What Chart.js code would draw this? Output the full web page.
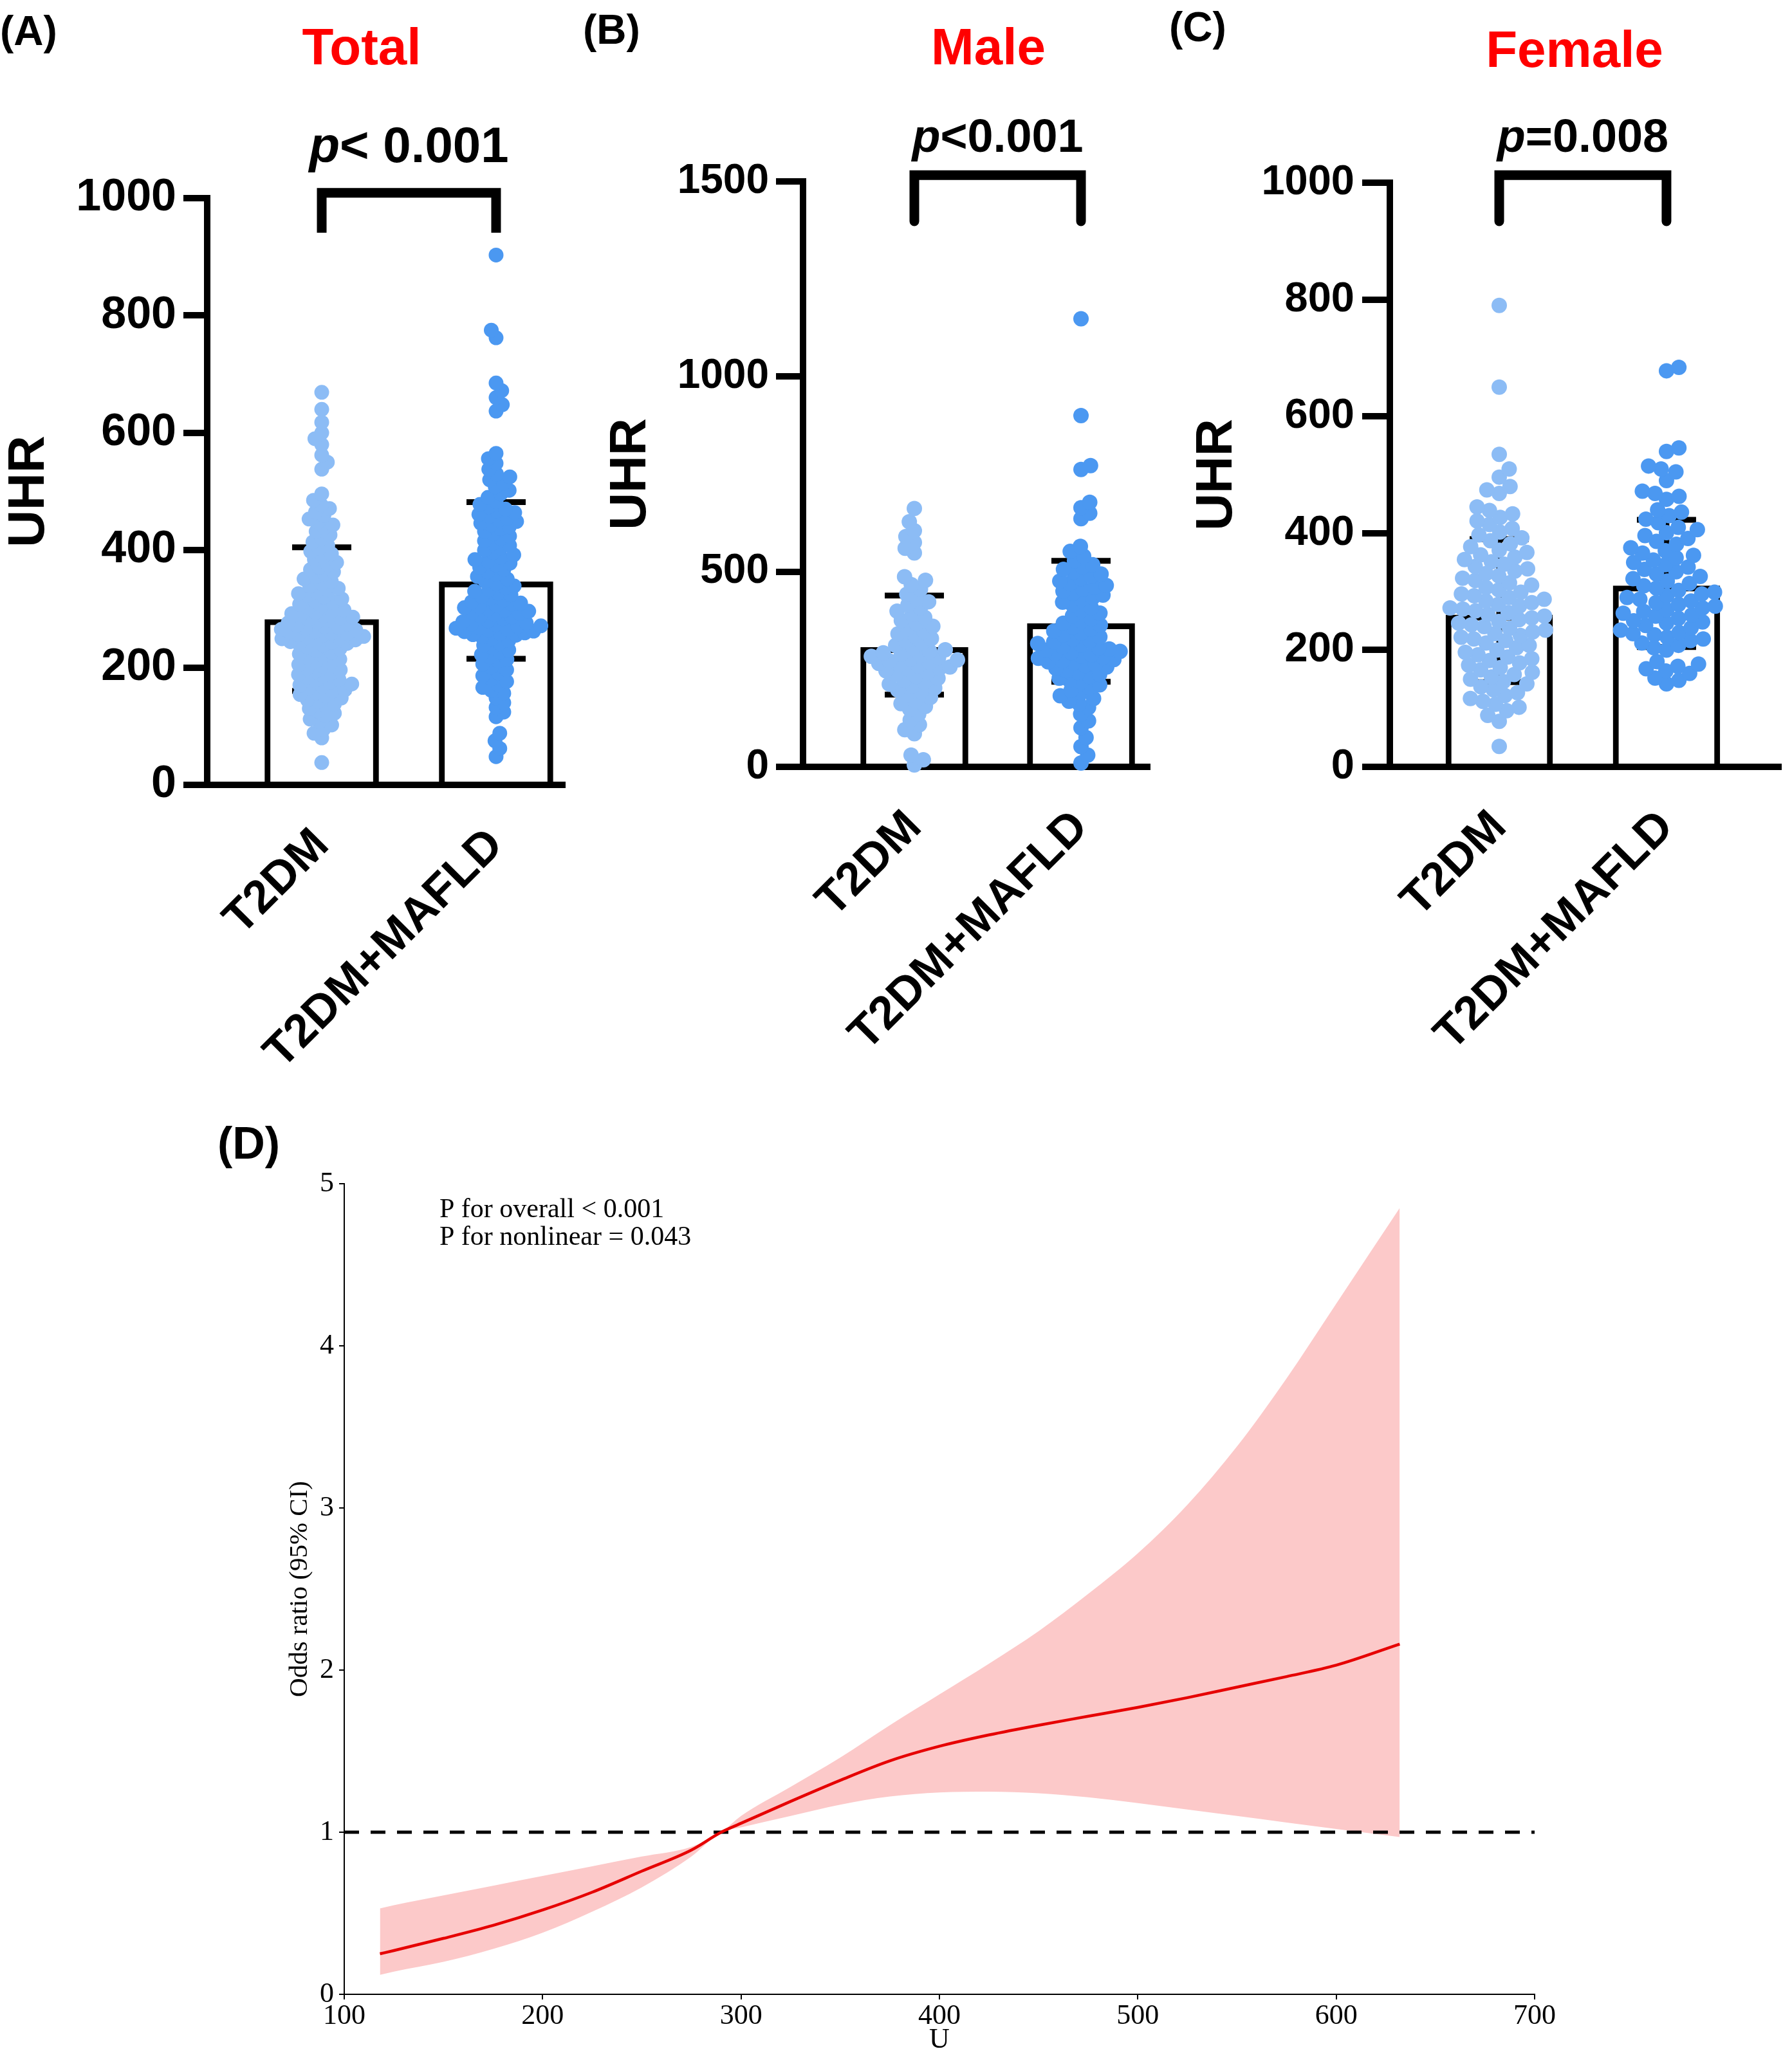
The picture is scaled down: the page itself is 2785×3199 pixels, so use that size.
<!DOCTYPE html>
<html>
<head>
<meta charset="utf-8">
<script src="https://cdn.jsdelivr.net/npm/chart.js@4.4.1/dist/chart.umd.min.js"></script>
<style>
  body { margin: 0; background: #fff; width: 2785px; height: 3199px; position: relative; overflow: hidden; }
  .pane { position: absolute; }
</style>
</head>
<body>
<div class="pane" style="left:0;top:0;width:900px;height:1700px"><canvas id="cA"></canvas></div>
<div class="pane" style="left:900px;top:0;width:910px;height:1700px"><canvas id="cB"></canvas></div>
<div class="pane" style="left:1810px;top:0;width:975px;height:1700px"><canvas id="cC"></canvas></div>
<div class="pane" style="left:300px;top:1700px;width:2200px;height:1499px"><canvas id="cD"></canvas></div>
<script>
const SANS = "'Liberation Sans', Arial, sans-serif";
const SERIF = "'Liberation Serif', 'Times New Roman', serif";

// ---- data ----
const groups = ['T2DM', 'T2DM+MAFLD'];

const totalT2dm = [38, 80, 88, 95, 102, 108, 112, 118, 122, 126, 130, 134, 138, 142, 145, 148,
  152, 154, 157, 160, 162, 165, 168, 170, 172, 175, 178, 180, 183, 186, 188, 191, 194, 196, 199,
  202, 205, 208, 211, 214, 217, 220, 223, 226, 229, 232, 235, 238,
  240, 241, 243, 244, 246, 247, 249, 250, 252, 253, 255, 256, 258, 259, 261, 262, 264, 265, 267, 268,
  270, 272, 274, 276, 278, 280, 282, 284, 286, 288, 290, 292, 294, 296, 298,
  302, 305, 308, 311, 314, 317, 320, 323, 326, 329, 332, 335, 339, 343, 347,
  351, 355, 359, 363, 367, 371, 375, 379, 384, 389, 394, 398,
  403, 408, 414, 420, 426, 432, 438, 443, 448, 453, 459, 465, 471, 477, 485, 496,
  538, 550, 562, 580, 590, 600, 618, 640, 669];
const totalMafld = [48, 62, 75, 88, 116, 124, 132, 140, 148, 156,
  161, 166, 171, 176, 181, 186, 191, 196, 201, 206,
  211, 214, 218, 222, 226, 230, 234, 238, 242, 246, 250, 253,
  255, 256, 258, 259, 261, 262, 264, 265, 267, 268, 270, 271, 273, 274, 276, 278, 280, 283,
  286, 288, 290, 292, 294, 296, 298, 300, 302, 304, 306, 308, 310, 312, 315, 318, 321, 324, 327, 330, 333, 336,
  339, 343, 347, 351, 355, 359, 363, 367, 371, 375, 378, 381, 384,
  388, 392, 396, 400, 404, 408, 412, 416, 420, 424, 428, 432,
  437, 440, 443, 446, 449, 452, 455, 458, 461, 464, 467, 470, 474, 478, 483,
  490, 496, 502, 508, 514, 520, 525, 530, 538, 548, 556, 565,
  637, 648, 660, 672, 685, 762, 775, 903];

const maleT2dm = [5, 18, 30, 85, 95, 108, 120, 135,
  148, 155, 162, 170, 178, 185, 192, 197,
  202, 207, 212, 217, 222, 227, 232, 237, 242, 246, 250,
  253, 256, 259, 262, 265, 268, 271, 274, 277, 280, 283, 286, 289, 292, 296, 300,
  305, 311, 317, 323, 329, 335, 341, 347, 354, 360,
  367, 375, 383, 391, 399, 407, 415, 423, 431,
  442, 455, 467, 478, 487, 548, 560, 575, 590, 605, 628, 662];
const maleMafld = [10, 30, 52, 75, 100, 118, 135, 152,
  162, 168, 175, 182, 189, 196, 203, 210, 217, 222,
  227, 232, 237, 242, 247, 252, 256, 260, 263,
  266, 269, 272, 275, 278, 281, 284, 287, 290, 293, 296, 299, 302, 305, 308, 312, 316, 320, 324, 328,
  333, 338, 343, 348, 353, 358, 363, 368,
  373, 380, 387, 394, 401, 408, 415, 422, 429, 434,
  440, 445, 450, 455, 460, 465, 470, 476, 482, 488, 494, 500, 506, 512,
  518, 528, 540, 552, 565, 636, 650, 664, 678, 762, 772, 900, 1148];

const femaleT2dm = [35, 78, 88, 96, 102, 107, 112, 117, 122, 127, 132, 137,
  142, 146, 150, 154, 158, 162, 166, 170, 174, 178,
  182, 185, 188, 192, 196, 200, 204, 208, 212, 216, 219,
  222, 225, 228, 231, 234, 237, 240, 243, 246, 249, 252, 255, 258,
  261, 264, 267, 270, 272, 275, 278, 281, 284, 287, 290, 293, 296, 299,
  303, 307, 311, 315, 319, 323, 327, 331, 335, 339,
  343, 347, 351, 355, 359, 363, 367, 371,
  377, 382, 387, 392, 397, 402, 408, 415, 421, 427, 433, 439, 445,
  468, 474, 480, 496, 510, 535, 650, 790];
const femaleMafld = [142, 148, 152, 160, 164, 168, 172, 176, 180,
  200, 204, 208, 212, 216, 219,
  222, 226, 228, 230, 234, 238, 242, 246, 248, 250, 254, 258,
  260, 263, 266, 269, 272, 275, 278, 281, 284, 287, 290, 293, 296, 299,
  302, 306, 310, 314, 318, 322, 326, 330, 334, 338,
  342, 346, 350, 354, 358, 362, 366, 370, 375,
  381, 386, 391, 396, 401, 406, 410, 418, 424, 430, 436, 440,
  458, 463, 468, 472, 490, 505, 510, 515, 540, 546, 678, 684];

// bar = mean, error bar = lower / upper
const totalMean = [282, 346], totalLow = [160, 215], totalHigh = [405, 482];
const maleMean = [306, 367], maleLow = [185, 218], maleHigh = [439, 528];
const femaleMean = [260, 310], femaleLow = [145, 205], femaleHigh = [390, 423];

const ticksTotal = [0, 200, 400, 600, 800, 1000];
const ticksMale = [0, 500, 1000, 1500];
const ticksFemale = [0, 200, 400, 600, 800, 1000];

// panel D: restricted cubic spline
const uVals = [118, 125, 150, 175, 200, 225, 250, 275, 290, 300, 325, 350, 375, 400, 425, 450, 475, 500, 525, 550, 575, 600, 632];
const orVals = [0.25, 0.27, 0.345, 0.425, 0.52, 0.63, 0.76, 0.89, 1.0, 1.055, 1.19, 1.32, 1.44, 1.53, 1.60, 1.66, 1.715, 1.77, 1.83, 1.895, 1.96, 2.03, 2.16];
const orHigh = [0.53, 0.55, 0.61, 0.67, 0.73, 0.79, 0.85, 0.91, 1.0, 1.10, 1.28, 1.46, 1.66, 1.85, 2.04, 2.24, 2.47, 2.72, 3.02, 3.38, 3.80, 4.26, 4.85];
const orLow = [0.12, 0.14, 0.20, 0.28, 0.38, 0.51, 0.66, 0.85, 1.0, 1.03, 1.10, 1.17, 1.22, 1.245, 1.25, 1.24, 1.215, 1.18, 1.14, 1.10, 1.06, 1.02, 0.97];
const ticksU = [100, 200, 300, 400, 500, 600, 700];
const ticksOR = [0, 1, 2, 3, 4, 5];
const pLines = ['P for overall < 0.001', 'P for nonlinear = 0.043'];

// ---- plugins ----
const errorBars = {
  id: 'errorBars',
  afterDatasetDraw(chart, args, o) {
    if (args.index !== 0 || !o.low) return;
    const { ctx, scales: { x, y } } = chart;
    ctx.save();
    ctx.strokeStyle = '#000';
    ctx.lineWidth = o.width;
    o.low.forEach((lo, i) => {
      const px = x.getPixelForValue(i), hw = o.cap / 2;
      const yl = y.getPixelForValue(lo), yh = y.getPixelForValue(o.high[i]);
      ctx.beginPath();
      ctx.moveTo(px, yl); ctx.lineTo(px, yh);
      ctx.moveTo(px - hw, yh); ctx.lineTo(px + hw, yh);
      ctx.moveTo(px - hw, yl); ctx.lineTo(px + hw, yl);
      ctx.stroke();
    });
    ctx.restore();
  }
};

const annot = {
  id: 'annot',
  afterDraw(chart, args, o) {
    if (!o.letter) return;
    const { ctx, scales: { x, y } } = chart;
    ctx.save();
    ctx.fillStyle = '#000';
    ctx.textAlign = 'left';
    ctx.textBaseline = 'middle';
    ctx.font = `bold ${o.letterSize}px ${o.letterFont || SANS}`;
    ctx.fillText(o.letter, o.letterX, o.letterY);
    if (o.title) {
      ctx.fillStyle = '#ff0000';
      ctx.textAlign = 'center';
      ctx.textBaseline = 'alphabetic';
      ctx.font = `bold 80px ${SANS}`;
      ctx.fillText(o.title, o.titleX, o.titleY);
    }
    if (o.pText) {
      const x0 = x.getPixelForValue(0), x1 = x.getPixelForValue(1);
      const yt = y.getPixelForValue(o.bracketTop), yb = y.getPixelForValue(o.bracketLeg);
      ctx.strokeStyle = '#000';
      ctx.lineWidth = 15;
      ctx.lineCap = o.cap;
      ctx.lineJoin = 'miter';
      ctx.beginPath();
      ctx.moveTo(x0, yb); ctx.lineTo(x0, yt); ctx.lineTo(x1, yt); ctx.lineTo(x1, yb);
      ctx.stroke();
      const f1 = `italic bold ${o.pSize}px ${SANS}`, f2 = `bold ${o.pSize}px ${SANS}`;
      ctx.font = f1; const w1 = ctx.measureText('p').width;
      ctx.font = f2; const w2 = ctx.measureText(o.pText).width;
      const sx = (x0 + x1) / 2 - (w1 + w2) / 2;
      ctx.fillStyle = '#000';
      ctx.textAlign = 'left';
      ctx.textBaseline = 'alphabetic';
      ctx.font = f1; ctx.fillText('p', sx, o.pY);
      ctx.font = f2; ctx.fillText(o.pText, sx + w1, o.pY);
    }
    if (o.lines) {
      ctx.textAlign = 'left';
      ctx.textBaseline = 'alphabetic';
      ctx.font = `42px ${SERIF}`;
      o.lines.forEach((t, i) => ctx.fillText(t, o.linesX, o.linesY + i * 43));
    }
    ctx.restore();
  }
};

// beeswarm offsets in pixel space, then back to x units
function swarm(chart, dsIndex, group, d) {
  const xs = chart.scales.x, ys = chart.scales.y;
  const unit = xs.getPixelForValue(1) - xs.getPixelForValue(0);
  const ds = chart.data.datasets[dsIndex];
  const pts = ds.data.map((p, i) => ({ i, v: p.y, py: ys.getPixelForValue(p.y) }));
  pts.sort((a, b) => a.v - b.v);
  const placed = [];
  pts.forEach((p, k) => {
    const near = placed.filter(q => Math.abs(q.py - p.py) < d);
    const cands = [0];
    near.forEach(q => {
      const dx = Math.sqrt(d * d - (q.py - p.py) ** 2);
      cands.push(q.px + dx, q.px - dx);
    });
    const side = k % 2 ? 1 : -1;
    cands.sort((a, b) => (Math.abs(a) - Math.abs(b)) || (side * (b - a)));
    let px = 0;
    for (const c of cands) {
      if (near.every(q => (q.px - c) ** 2 + (q.py - p.py) ** 2 >= d * d - 0.5)) { px = c; break; }
    }
    p.px = px;
    placed.push(p);
    ds.data[p.i] = { x: group + px / unit, y: p.v };
  });
}

function makePanel(id, c) {
  const chart = new Chart(document.getElementById(id), {
    type: 'scatter',
    data: {
      datasets: [
        {
          type: 'bar', order: 3,
          data: c.mean.map((m, i) => ({ x: i, y: m })),
          backgroundColor: '#fff', borderColor: '#000', borderWidth: 9,
          barThickness: c.barW
        },
        {
          order: 1, data: c.t2dm.map(v => ({ x: 0, y: v })),
          backgroundColor: '#8cbcf5', borderWidth: 0, pointRadius: c.radius, clip: false
        },
        {
          order: 1, data: c.mafld.map(v => ({ x: 1, y: v })),
          backgroundColor: '#4b98f1', borderWidth: 0, pointRadius: c.radius, clip: false
        }
      ]
    },
    options: {
      animation: false,
      responsive: true,
      maintainAspectRatio: false,
      devicePixelRatio: 1,
      layout: { padding: { left: 0, top: c.top, right: c.right, bottom: 0 } },
      scales: {
        x: {
          type: 'linear', min: c.xMin, max: c.xMax, offset: false,
          afterFit: s => { s.height = c.xHeight; },
          afterBuildTicks: s => { s.ticks = groups.map((g, i) => ({ value: i })); },
          ticks: {
            callback: v => groups[v], autoSkip: false, minRotation: 45, maxRotation: 45,
            font: { family: SANS, weight: 'bold', size: 72 }, color: '#000', padding: 52
          },
          grid: { display: false, drawTicks: false, offset: false },
          border: { display: true, width: 10, color: '#000' }
        },
        y: {
          min: 0, max: c.yMax,
          afterFit: s => { s.width = c.yWidth; },
          afterBuildTicks: s => { s.ticks = c.yTicks.map(v => ({ value: v })); },
          ticks: {
            callback: v => String(v),
            font: { family: SANS, weight: 'bold', size: c.tickFont }, color: '#000', padding: c.tickPad
          },
          grid: { display: true, drawOnChartArea: false, drawTicks: true, tickLength: c.tickLen, lineWidth: 10, color: '#000' },
          border: { display: true, width: 10, color: '#000' },
          title: {
            display: true, text: 'UHR', color: '#000',
            font: { family: SANS, weight: 'bold', size: 80, lineHeight: 1.1 },
            padding: { top: c.titlePad, bottom: 0 }
          }
        }
      },
      plugins: {
        legend: { display: false },
        tooltip: { enabled: false },
        errorBars: { low: c.low, high: c.high, cap: 92, width: 9 },
        annot: {
          letter: c.letter, letterX: c.letterX, letterY: c.letterY, letterSize: 64,
          title: c.title, titleX: c.titleX, titleY: c.titleY,
          pText: c.pText, pY: c.pY, pSize: c.pSize,
          bracketTop: c.bracketTop, bracketLeg: c.bracketLeg, cap: c.cap
        }
      }
    },
    plugins: [errorBars, annot]
  });
  swarm(chart, 1, 0, c.gap);
  swarm(chart, 2, 1, c.gap);
  chart.update('none');
  return chart;
}

makePanel('cA', {
  t2dm: totalT2dm, mafld: totalMafld, mean: totalMean, low: totalLow, high: totalHigh,
  yMax: 1000, yTicks: ticksTotal, xMin: -0.657, xMax: 1.395,
  top: 308, right: 22, yWidth: 322, xHeight: 480,
  tickFont: 70, tickLen: 37, tickPad: 11, titlePad: 2,
  barW: 177, radius: 11.5, gap: 14,
  letter: '(A)', letterX: 0, letterY: 52, title: 'Total', titleX: 562, titleY: 100,
  pText: '< 0.001', pY: 252, pSize: 78, bracketTop: 1009, bracketLeg: 941, cap: 'butt'
});

makePanel('cB', {
  t2dm: maleT2dm, mafld: maleMafld, mean: maleMean, low: maleLow, high: maleHigh,
  yMax: 1500, yTicks: ticksMale, xMin: -0.668, xMax: 1.413,
  top: 282, right: 23, yWidth: 348, xHeight: 508,
  tickFont: 64, tickLen: 42, tickPad: 11, titlePad: 37,
  barW: 167, radius: 12, gap: 16,
  letter: '(B)', letterX: 6, letterY: 50, title: 'Male', titleX: 636, titleY: 100,
  pText: '<0.001', pY: 236, pSize: 72, bracketTop: 1516, bracketLeg: 1398, cap: 'round'
});

makePanel('cC', {
  t2dm: femaleT2dm, mafld: femaleMafld, mean: femaleMean, low: femaleLow, high: femaleHigh,
  yMax: 1000, yTicks: ticksFemale, xMin: -0.654, xMax: 1.685,
  top: 284, right: 17, yWidth: 350, xHeight: 508,
  tickFont: 65, tickLen: 43, tickPad: 12, titlePad: 38,
  barW: 166, radius: 12, gap: 20,
  letter: '(C)', letterX: 7, letterY: 46, title: 'Female', titleX: 637, titleY: 104,
  pText: '=0.008', pY: 236, pSize: 72, bracketTop: 1013, bracketLeg: 934, cap: 'round'
});

// ---- panel D ----
const serifTicks = { family: SERIF, size: 44 };
new Chart(document.getElementById('cD'), {
  type: 'scatter',
  data: {
    datasets: [
      {
        order: 3, data: uVals.map((u, i) => ({ x: u, y: orHigh[i] })),
        showLine: true, borderWidth: 0, pointRadius: 0, fill: '+1',
        backgroundColor: '#fcc9c9', cubicInterpolationMode: 'monotone'
      },
      {
        order: 3, data: uVals.map((u, i) => ({ x: u, y: orLow[i] })),
        showLine: true, borderWidth: 0, pointRadius: 0, fill: false,
        cubicInterpolationMode: 'monotone'
      },
      {
        order: 1, data: uVals.map((u, i) => ({ x: u, y: orVals[i] })),
        showLine: true, borderColor: '#e60000', borderWidth: 4.5, pointRadius: 0,
        cubicInterpolationMode: 'monotone'
      },
      {
        order: 2, data: [{ x: ticksU[0], y: 1 }, { x: ticksU[ticksU.length - 1], y: 1 }],
        showLine: true, borderColor: '#000', borderWidth: 5, borderDash: [23, 18], pointRadius: 0
      }
    ]
  },
  options: {
    animation: false,
    responsive: true,
    maintainAspectRatio: false,
    devicePixelRatio: 1,
    layout: { padding: { left: 0, top: 140, right: 115, bottom: 0 } },
    scales: {
      x: {
        type: 'linear', min: 100, max: 700,
        afterFit: s => { s.height = 99; },
        afterBuildTicks: s => { s.ticks = ticksU.map(v => ({ value: v })); },
        ticks: { callback: v => String(v), font: serifTicks, color: '#000', padding: 0 },
        grid: { display: true, drawOnChartArea: false, tickLength: 8, lineWidth: 2, color: '#000' },
        border: { display: true, width: 2, color: '#000' },
        title: { display: true, text: 'U', color: '#000', font: { family: SERIF, size: 44, lineHeight: 1.1 }, padding: { top: 0, bottom: 3 } }
      },
      y: {
        min: 0, max: 5,
        afterFit: s => { s.width = 235; },
        afterBuildTicks: s => { s.ticks = ticksOR.map(v => ({ value: v })); },
        ticks: { callback: v => String(v), font: serifTicks, color: '#000', padding: 8 },
        grid: { display: true, drawOnChartArea: false, tickLength: 8, lineWidth: 2, color: '#000' },
        border: { display: true, width: 2, color: '#000' },
        title: { display: true, text: 'Odds ratio (95% CI)', color: '#000', font: { family: SERIF, size: 41, lineHeight: 1.2 }, padding: { top: 142, bottom: 0 } }
      }
    },
    plugins: {
      legend: { display: false },
      tooltip: { enabled: false },
      annot: {
        letter: '(D)', letterX: 38, letterY: 82, letterSize: 70, letterFont: "'Liberation Sans Narrow', " + SANS,
        lines: pLines, linesX: 383, linesY: 192
      }
    }
  },
  plugins: [annot]
});
</script>
</body>
</html>
